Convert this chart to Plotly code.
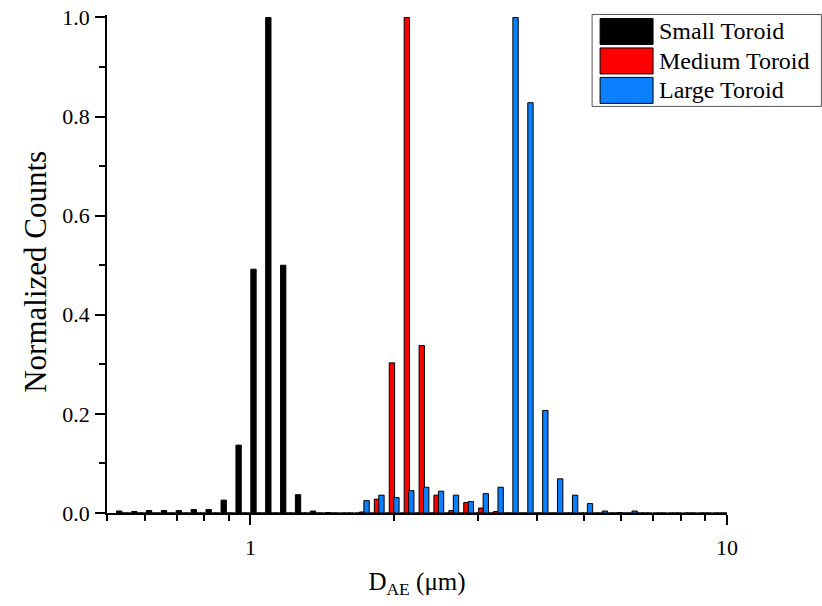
import numpy as np
import plotly.graph_objects as go

# APS channel midpoint diameters (um)
diameters = [0.542, 0.583, 0.626, 0.673, 0.723, 0.777, 0.835, 0.898, 0.965, 1.037,
             1.114, 1.197, 1.286, 1.382, 1.486, 1.596, 1.715, 1.843, 1.981, 2.129,
             2.288, 2.458, 2.642, 2.839, 3.051, 3.278, 3.523, 3.786, 4.068, 4.371,
             4.698, 5.048, 5.425, 5.829, 6.264, 6.732, 7.234, 7.774, 8.354, 8.977, 9.647]

small_toroid = [0.004, 0.003, 0.005, 0.005, 0.005, 0.007, 0.007, 0.026, 0.137, 0.492,
                1.000, 0.500, 0.037, 0.004, 0.001, 0.0, 0.0, 0.0, 0.0, 0.0,
                0.0, 0.0, 0.0, 0.0, 0.0, 0.0, 0.0, 0.0, 0.0, 0.0,
                0.0, 0.0, 0.0, 0.0, 0.0, 0.0, 0.0, 0.0, 0.0, 0.0, 0.0]

medium_toroid = [0.0, 0.0, 0.0, 0.0, 0.0, 0.0, 0.0, 0.0, 0.0, 0.0,
                 0.0, 0.0, 0.0, 0.0, 0.0, 0.0, 0.002, 0.028, 0.303, 1.000,
                 0.338, 0.036, 0.005, 0.021, 0.010, 0.003, 0.0, 0.0, 0.0, 0.0,
                 0.0, 0.0, 0.0, 0.0, 0.0, 0.0, 0.0, 0.0, 0.0, 0.0, 0.0]

large_toroid = [0.0, 0.0, 0.0, 0.0, 0.0, 0.0, 0.0, 0.0, 0.0, 0.0,
                0.0, 0.0, 0.0, 0.0, 0.0, 0.0, 0.025, 0.036, 0.031, 0.045,
                0.052, 0.044, 0.036, 0.023, 0.039, 0.052, 1.000, 0.828, 0.207, 0.069,
                0.036, 0.019, 0.004, 0.001, 0.004, 0.0, 0.0, 0.0, 0.0, 0.0, 0.0]

series_names = ["Small Toroid", "Medium Toroid", "Large Toroid"]
series_colors = ["#000000", "#FF0000", "#0A80FF"]
series_values = [small_toroid, medium_toroid, large_toroid]

x_major = [1, 10]
x_minor = [0.5, 0.6, 0.7, 0.8, 0.9, 2, 3, 4, 5, 6, 7, 8, 9]
y_ticks = [0.0, 0.2, 0.4, 0.6, 0.8, 1.0]
y_minor = [0.1, 0.3, 0.5, 0.7, 0.9]

FONT = "Liberation Serif"
logx = np.log10(diameters)

bar_w = 0.0112          # width in log10 units
shift = 0.0094          # spacing between bars within a channel group

fig = go.Figure()
for i, (name, col, vals) in enumerate(zip(series_names, series_colors, series_values)):
    center = (i - 1) * shift
    fig.add_trace(go.Bar(
        x=logx, y=vals, name=name,
        width=bar_w, offset=center - bar_w / 2,
        marker=dict(color=col, line=dict(color="#000000", width=1)),
        showlegend=False,
    ))

# body margin is removed below, so figure pixels == page pixels
OFF = 0
W, H = 822, 606
Y_TOP = 1.005
L, T = 106.5 - OFF, 17 - OFF - (Y_TOP - 1.0) * 496
pw, ph = 620.5, 496 * Y_TOP
R, B = W - L - pw, H - T - ph

def px(xp):   # page x -> paper
    return (xp - OFF - L) / pw

def py(yp):   # page y -> paper
    return (T + ph - (yp - OFF)) / ph

# custom legend box (Origin style)
fig.add_shape(type="rect", xref="paper", yref="paper",
              x0=px(592), x1=px(821.5), y0=py(106), y1=py(14),
              line=dict(color="#555555", width=1), fillcolor="white", layer="above")
for i, (name, col) in enumerate(zip(series_names, series_colors)):
    top = 18 + i * 29.5
    fig.add_shape(type="rect", xref="paper", yref="paper",
                  x0=px(600), x1=px(653), y0=py(top + 26), y1=py(top),
                  line=dict(color="#000000", width=1), fillcolor=col, layer="above")
    fig.add_annotation(xref="paper", yref="paper", x=px(657), y=py(top + 13),
                       text=name, showarrow=False, xanchor="left", yanchor="middle",
                       font=dict(family=FONT, size=24, color="black"))

# y-axis title
fig.add_annotation(xref="paper", yref="paper", x=px(35), y=py(272),
                   text="Normalized Counts", textangle=-90, showarrow=False,
                   xanchor="center", yanchor="middle",
                   font=dict(family=FONT, size=31, color="black"))

fig.update_layout(
    width=W, height=H,
    margin=dict(l=L, r=R, t=T, b=B, autoexpand=False),
    paper_bgcolor="white", plot_bgcolor="white",
    barmode="overlay",
    font=dict(family=FONT, size=22, color="black"),
)
fig.update_xaxes(
    range=[np.log10(0.5), 1.0], showgrid=False, zeroline=False, automargin=False,
    showline=True, linecolor="black", linewidth=1.5,
    tickmode="array", tickvals=np.log10(x_major), ticktext=[str(v) for v in x_major],
    ticks="outside", ticklen=10, tickwidth=1.5, tickcolor="black",
    ticklabelstandoff=4,
    minor=dict(tickmode="array", tickvals=np.log10(x_minor), ticks="outside",
               ticklen=6, tickwidth=1.5, tickcolor="black", showgrid=False),
    title=dict(text="D<sub>AE</sub> (\u03bcm)", font=dict(family=FONT, size=25), standoff=13),
    tickfont=dict(family=FONT, size=22),
)
fig.update_yaxes(
    range=[0, Y_TOP], showgrid=False, zeroline=False, automargin=False,
    showline=True, linecolor="black", linewidth=1.5,
    tickmode="array", tickvals=y_ticks, ticktext=[f"{v:.1f}" for v in y_ticks],
    ticks="outside", ticklen=10, tickwidth=1.5, tickcolor="black",
    ticklabelstandoff=1, ticklabeloverflow="allow",
    minor=dict(tickmode="array", tickvals=y_minor, ticks="outside",
               ticklen=6, tickwidth=1.5, tickcolor="black", showgrid=False),
    tickfont=dict(family=FONT, size=22),
)

fig.write_html("out.html",
               config={"displayModeBar": False},
               post_script="document.body.style.margin='0px';"
                           "document.body.style.overflow='hidden';")
